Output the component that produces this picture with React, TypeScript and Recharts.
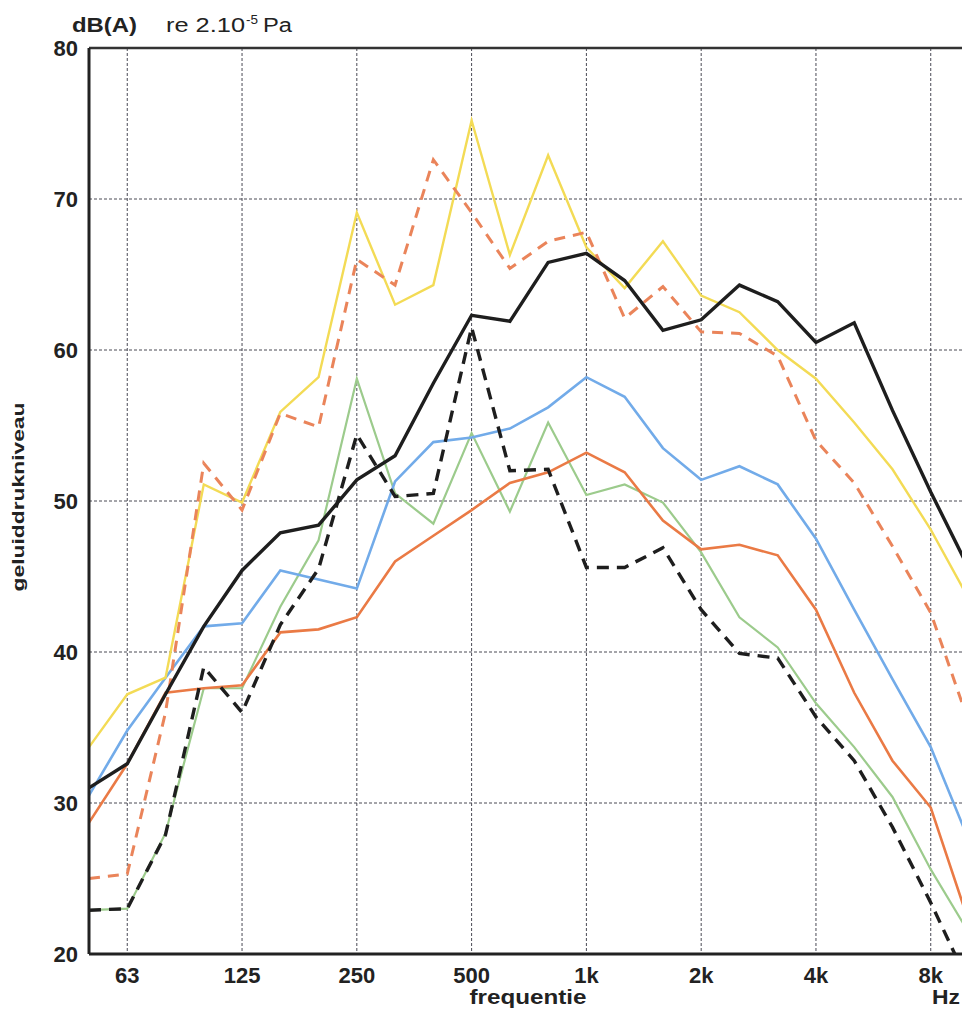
import { CartesianGrid, Line, LineChart, ReferenceLine, XAxis, YAxis } from "recharts";

// third-octave bands, 50 Hz .. 10 kHz
const bands = ["50", "63", "80", "100", "125", "160", "200", "250", "315", "400", "500", "630", "800", "1k", "1.25k", "1.6k", "2k", "2.5k", "3.15k", "4k", "5k", "6.3k", "8k", "10k"];
const octaveTicks = ["63", "125", "250", "500", "1k", "2k", "4k", "8k"];
const levelTicks = [20, 30, 40, 50, 60, 70, 80];

const yellowLevels = [33.7, 37.2, 38.3, 51.1, 49.9, 55.9, 58.2, 69.1, 63.0, 64.3, 75.2, 66.3, 72.9, 66.8, 64.1, 67.2, 63.6, 62.5, 60.0, 58.1, 55.2, 52.1, 48.1, 43.5];
const salmonDashedLevels = [25.0, 25.3, 36.0, 52.5, 49.4, 55.8, 54.9, 66.0, 64.3, 72.6, 69.1, 65.4, 67.2, 67.8, 62.1, 64.2, 61.2, 61.1, 59.6, 54.0, 51.2, 47.0, 42.6, 35.3];
const blackLevels = [31.0, 32.6, 37.2, 41.7, 45.4, 47.9, 48.4, 51.4, 53.0, 57.8, 62.3, 61.9, 65.8, 66.4, 64.6, 61.3, 62.0, 64.3, 63.2, 60.5, 61.8, 56.0, 50.6, 45.5];
const blueLevels = [30.5, 34.8, 38.3, 41.7, 41.9, 45.4, 44.8, 44.2, 51.3, 53.9, 54.2, 54.8, 56.2, 58.2, 56.9, 53.5, 51.4, 52.3, 51.1, 47.5, 42.8, 38.2, 33.7, 27.5];
const orangeLevels = [28.7, 32.6, 37.3, 37.6, 37.8, 41.3, 41.5, 42.3, 46.0, 47.7, 49.4, 51.2, 51.9, 53.2, 51.9, 48.7, 46.8, 47.1, 46.4, 42.8, 37.3, 32.8, 29.7, 22.1];
const greenLevels = [22.9, 23.0, 28.0, 37.6, 37.6, 43.0, 47.4, 58.1, 50.5, 48.5, 54.5, 49.3, 55.2, 50.4, 51.1, 49.9, 46.6, 42.3, 40.3, 36.6, 33.7, 30.4, 25.6, 21.4];
const blackDashedLevels = [22.9, 23.0, 27.9, 39.0, 36.0, 41.8, 45.5, 54.4, 50.3, 50.5, 61.5, 52.0, 52.1, 45.6, 45.6, 46.9, 42.8, 39.9, 39.6, 35.7, 32.8, 28.4, 23.4, 18.0];

const data = bands.map((f, i) => ({
  f,
  yellow: yellowLevels[i],
  salmon: salmonDashedLevels[i],
  black: blackLevels[i],
  blue: blueLevels[i],
  orange: orangeLevels[i],
  green: greenLevels[i],
  blackDashed: blackDashedLevels[i],
}));

const INK = "#222";
const FONT = "'Liberation Sans', Arial, sans-serif";

// y title + the unit header above the plot
function LevelTitle() {
  return (
    <g fill={INK} fontFamily={FONT}>
      <text x={24} y={497} transform="rotate(-90 24 497)" textAnchor="middle" fontSize={16} fontWeight={700} textLength={189} lengthAdjust="spacingAndGlyphs">
        geluiddrukniveau
      </text>
      <text x={72} y={32} fontSize={20} fontWeight={700} textLength={65} lengthAdjust="spacingAndGlyphs">
        dB(A)
      </text>
      <text x={166} y={32} fontSize={20} textLength={79} lengthAdjust="spacingAndGlyphs">
        re 2.10
      </text>
      <text x={246} y={24} fontSize={13} textLength={12} lengthAdjust="spacingAndGlyphs">
        -5
      </text>
      <text x={263} y={32} fontSize={20} textLength={29} lengthAdjust="spacingAndGlyphs">
        Pa
      </text>
    </g>
  );
}

function FreqTitle() {
  return (
    <g fill={INK} fontFamily={FONT} fontWeight={700} fontSize={21}>
      <text x={528} y={1004} textAnchor="middle" textLength={117} lengthAdjust="spacingAndGlyphs">
        frequentie
      </text>
      <text x={932} y={1004} textLength={28} lengthAdjust="spacingAndGlyphs">
        Hz
      </text>
    </g>
  );
}

export default function App() {
  return (
    <div style={{ position: "absolute", left: 0, top: 0, width: 962, height: 1009, overflow: "hidden", background: "#fff", fontFamily: FONT }}>
      <LineChart width={1000} height={1009} data={data} margin={{ top: 48, right: 31, bottom: 0, left: 0 }}>
        <CartesianGrid stroke="#4a4a55" strokeDasharray="3 2" strokeWidth={1} />
        <XAxis
          dataKey="f"
          type="category"
          ticks={octaveTicks}
          interval={0}
          height={55}
          tickLine={false}
          tickMargin={7}
          axisLine={{ stroke: INK, strokeWidth: 3 }}
          tick={{ fontSize: 22, fontWeight: 700, fill: INK }}
          label={() => <FreqTitle />}
        />
        <YAxis
          type="number"
          domain={[20, 80]}
          ticks={levelTicks}
          allowDataOverflow
          width={89}
          tickLine={false}
          tickMargin={5}
          axisLine={{ stroke: INK, strokeWidth: 3 }}
          tick={{ fontSize: 22, fontWeight: 700, fill: INK }}
          label={() => <LevelTitle />}
        />
        <ReferenceLine y={80} stroke="#333" strokeWidth={2.5} />
        <Line dataKey="green" type="linear" stroke="#9ccb8c" strokeWidth={2.2} dot={false} isAnimationActive={false} />
        <Line dataKey="orange" type="linear" stroke="#ea7a45" strokeWidth={2.6} dot={false} isAnimationActive={false} />
        <Line dataKey="blue" type="linear" stroke="#72abe9" strokeWidth={2.6} dot={false} isAnimationActive={false} />
        <Line dataKey="yellow" type="linear" stroke="#f3db55" strokeWidth={2.4} dot={false} isAnimationActive={false} />
        <Line dataKey="salmon" type="linear" stroke="#ea845a" strokeWidth={3} strokeDasharray="11 8" dot={false} isAnimationActive={false} />
        <Line dataKey="blackDashed" type="linear" stroke="#1e1e1e" strokeWidth={3.4} strokeDasharray="12 8" dot={false} isAnimationActive={false} />
        <Line dataKey="black" type="linear" stroke="#1e1e1e" strokeWidth={3.4} dot={false} isAnimationActive={false} />
      </LineChart>
    </div>
  );
}
